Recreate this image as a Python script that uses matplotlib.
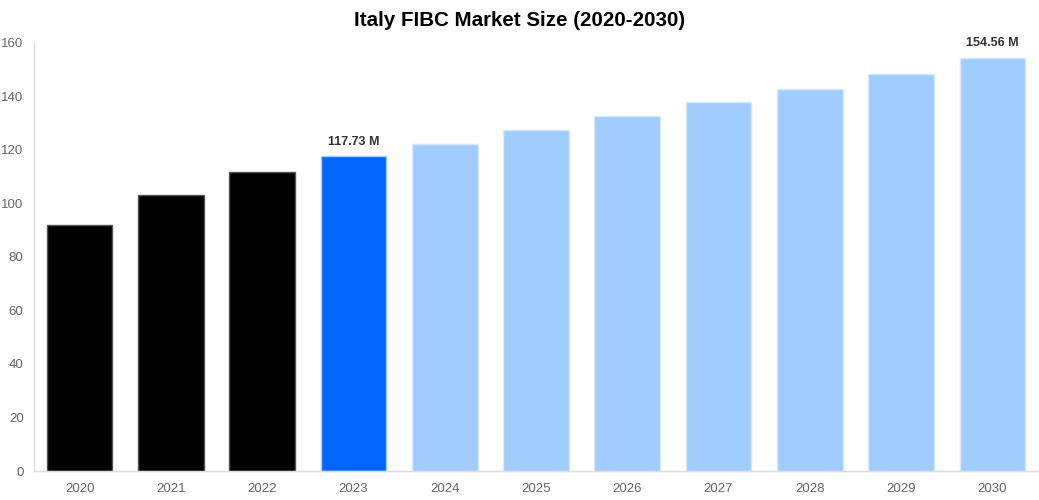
import matplotlib
matplotlib.use("Agg")
import matplotlib.pyplot as plt

years = ["2020", "2021", "2022", "2023", "2024", "2025", "2026", "2027", "2028", "2029", "2030"]
values = [91.9, 103.2, 111.8, 117.73, 122.3, 127.6, 132.8, 138.0, 142.9, 148.4, 154.56]
colors = ["#000000", "#000000", "#000000", "#0066ff",
          "#a1cdfe", "#a1cdfe", "#a1cdfe", "#a1cdfe", "#a1cdfe", "#a1cdfe", "#a1cdfe"]
edges = ["#555555", "#555555", "#555555", "#a1cdfe",
         "#d6e9ff", "#d6e9ff", "#d6e9ff", "#d6e9ff", "#d6e9ff", "#d6e9ff", "#d6e9ff"]
labels = {3: "117.73 M", 10: "154.56 M"}
yticks = [0, 20, 40, 60, 80, 100, 120, 140, 160]

plt.rcParams['font.family'] = ['Liberation Sans', 'DejaVu Sans']
fig = plt.figure(figsize=(10.39, 5.0), dpi=100)
ax = fig.add_axes([34/1039, 1-471/500, 1-34/1039 - 1/1039, (471-43)/500])

x = list(range(len(years)))
ax.bar(x, values, width=0.72, color=colors, edgecolor=edges, linewidth=1)
ax.set_xlim(-0.5, len(years) - 0.5)
ax.set_ylim(0, 160)
ax.set_yticks(yticks)
ax.set_xticks(x)
ax.set_xticklabels(years)
ax.tick_params(axis='both', length=0, labelsize=9.5, labelcolor='#666666')
ax.tick_params(axis='x', pad=9)
ax.tick_params(axis='y', pad=7.5)
for s in ['top', 'right']:
    ax.spines[s].set_visible(False)
for s in ['left', 'bottom']:
    ax.spines[s].set_color('#dddddd')
    ax.spines[s].set_linewidth(1)

for i, t in labels.items():
    ax.annotate(t, (i, values[i]), xytext=(0, 6), textcoords='offset points',
                ha='center', va='bottom', fontsize=9, fontweight='bold', color='#333333')

fig.text(0.5, 1-21/500, "Italy FIBC Market Size (2020-2030)", ha='center', va='center',
         fontsize=14.8, fontweight='bold', color='#000000')

fig.savefig("out.png", dpi=100)
